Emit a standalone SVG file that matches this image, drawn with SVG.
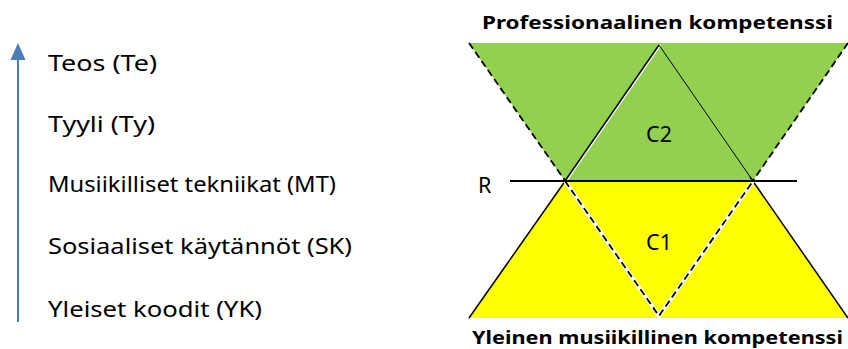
<svg xmlns="http://www.w3.org/2000/svg" width="848" height="349" viewBox="0 0 848 349">
<style>
.t{font-family:"Noto Sans","Open Sans","Liberation Sans",sans-serif;font-size:21.5px;fill:#000}
.b{font-family:"Noto Sans","Open Sans","Liberation Sans",sans-serif;font-size:18.5px;font-weight:bold;fill:#000}
.dash{fill:none;stroke:#000;stroke-width:1.8;stroke-dasharray:7,4}
.halo{fill:none;stroke:#fff;stroke-width:4}
.solid{fill:none;stroke:#000;stroke-width:1.5}
</style>
<rect width="848" height="349" fill="#fff"/>
<g id="axis">
  <line x1="18" y1="322" x2="18" y2="56" stroke="#4A7EBB" stroke-width="2"/>
  <polygon points="18,43 10.5,60 25.5,60" fill="#4A7EBB"/>
</g>
<g id="levels">
  <text class="t" x="48" y="71" textLength="109" lengthAdjust="spacingAndGlyphs">Teos (Te)</text>
  <text class="t" x="48" y="132" textLength="107" lengthAdjust="spacingAndGlyphs">Tyyli (Ty)</text>
  <text class="t" x="48" y="192" textLength="288" lengthAdjust="spacingAndGlyphs">Musiikilliset tekniikat (MT)</text>
  <text class="t" x="48" y="254" textLength="304" lengthAdjust="spacingAndGlyphs">Sosiaaliset käytännöt (SK)</text>
  <text class="t" x="48" y="317" textLength="214" lengthAdjust="spacingAndGlyphs">Yleiset koodit (YK)</text>
</g>
<g id="green-area">
  <polygon points="469,43 848,43 753,181 565,181" fill="#92D050"/>
</g>
<g id="yellow-area">
  <polygon points="565,180 753,180 848,318 469,318" fill="#FFFF00"/>
</g>
<g id="connectors">
  <line class="dash" x1="469" y1="43" x2="568" y2="185"/>
  <line class="dash" x1="848" y1="43" x2="750" y2="185"/>
  <line class="solid" x1="568" y1="177" x2="469" y2="318"/>
  <line class="solid" x1="750" y1="177" x2="848" y2="318"/>
  <line x1="566.5" y1="181" x2="660.5" y2="45" stroke="#fff" stroke-width="1.5"/>
  <line class="solid" x1="565" y1="181" x2="659" y2="45"/>
  <line x1="659" y1="45" x2="753" y2="181" stroke="#000" stroke-width="1"/>
  <polyline class="halo" points="565,181 659,316 753,181"/>
  <polyline class="dash" points="565,181 659,316 753,181"/>
  <line x1="510" y1="181" x2="797" y2="181" stroke="#000" stroke-width="2"/>
</g>
<g id="labels">
  <text class="b" x="482" y="29" textLength="351" lengthAdjust="spacingAndGlyphs">Professionaalinen kompetenssi</text>
  <text class="b" x="472" y="344" textLength="371" lengthAdjust="spacingAndGlyphs">Yleinen musiikillinen kompetenssi</text>
  <text class="t" x="659" y="142" text-anchor="middle">C2</text>
  <text class="t" x="659" y="250" text-anchor="middle">C1</text>
  <text class="t" x="478" y="193">R</text>
</g>
</svg>
